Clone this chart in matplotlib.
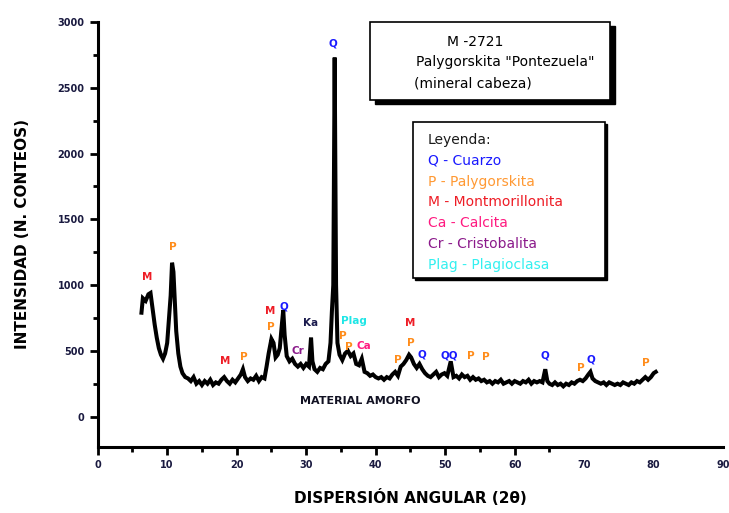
import matplotlib
matplotlib.use("Agg")
import matplotlib.pyplot as plt
from matplotlib.patches import Rectangle

# difractograma (2 theta, cuentas)
two_theta = [
    6.3, 6.5, 6.9, 7.3, 7.6, 7.9, 8.2, 8.5, 8.8, 9.1, 9.4, 9.7, 10.0, 10.3, 10.5, 10.7,
    10.9, 11.1, 11.3, 11.6, 11.9, 12.2, 12.6, 13.0, 13.4, 13.8, 14.2, 14.6, 15.0, 15.4,
    15.8, 16.2, 16.6, 17.0, 17.4, 17.8, 18.2, 18.6, 19.0, 19.4, 19.8, 20.2, 20.6, 20.9,
    21.2, 21.6, 22.0, 22.4, 22.8, 23.2, 23.6, 24.0, 24.3, 24.6, 25.0, 25.3, 25.6, 25.9,
    26.2, 26.5, 26.7, 26.9, 27.2, 27.6, 28.0, 28.4, 28.8, 29.2, 29.6, 30.0, 30.4, 30.7,
    30.9, 31.2, 31.6, 32.0, 32.4, 32.8, 33.2, 33.5, 33.7, 33.9, 34.1, 34.3, 34.5, 34.8,
    35.2, 35.6, 36.0, 36.4, 36.8, 37.2, 37.6, 38.0, 38.4, 38.8, 39.2, 39.6, 40.0, 40.4,
    40.8, 41.2, 41.6, 42.0, 42.4, 42.8, 43.2, 43.6, 44.0, 44.4, 44.8, 45.1, 45.5, 45.9,
    46.3, 46.7, 47.1, 47.5, 47.9, 48.3, 48.7, 49.1, 49.5, 49.9, 50.3, 50.8, 51.2, 51.6,
    52.0, 52.4, 52.8, 53.2, 53.6, 54.0, 54.4, 54.8, 55.2, 55.6, 56.0, 56.4, 56.8, 57.2,
    57.6, 58.0, 58.4, 58.8, 59.2, 59.6, 60.0, 60.4, 60.8, 61.2, 61.6, 62.0, 62.4, 62.8,
    63.2, 63.6, 64.0, 64.4, 64.7, 65.0, 65.4, 65.8, 66.2, 66.6, 67.0, 67.4, 67.8, 68.2,
    68.6, 69.0, 69.4, 69.8, 70.2, 70.6, 70.9, 71.2, 71.6, 72.0, 72.4, 72.8, 73.2, 73.6,
    74.0, 74.4, 74.8, 75.2, 75.6, 76.0, 76.4, 76.8, 77.2, 77.6, 78.0, 78.4, 78.8, 79.2,
    79.6, 80.0, 80.3,
]
counts = [
    790, 900, 880, 930, 940, 820, 700, 600, 520, 470, 440, 480, 560, 780, 920, 1170,
    1100, 880, 650, 480, 380, 330, 300, 290, 270, 300, 250, 270, 240, 270,
    250, 280, 240, 260, 250, 280, 300, 270, 250, 280, 260, 290, 320, 360,
    300, 270, 290, 280, 310, 270, 300, 290, 380, 480, 590, 560, 450, 470,
    520, 700, 810, 620, 460, 420, 440, 400, 380, 400, 370, 400, 380, 600,
    420, 360, 340, 370, 360, 400, 420, 560, 800, 1000, 2730, 1000, 560, 470,
    430, 480, 500, 460, 480, 400, 390, 440, 340, 330, 310, 320, 300, 290,
    300, 280, 300, 290, 320, 340, 310, 380, 400, 430, 470, 450, 400, 370,
    400, 360, 330, 310, 300, 320, 340, 300, 320, 330, 310, 420, 300, 310,
    290, 320, 300, 310, 280, 300, 280, 290, 270, 280, 260, 270, 250, 270,
    260, 280, 250, 260, 270, 250, 270, 260, 250, 270, 260, 280, 250, 270,
    260, 270, 260, 360, 270, 250, 240, 260, 240, 250, 230, 250, 240, 260,
    250, 270, 280, 270, 290, 320, 340, 290, 270, 260, 250, 260, 240, 260,
    250, 240, 250, 240, 260, 250, 240, 260, 250, 270, 260, 280, 300, 280,
    300, 330, 340,
]

# etiquetas de picos: (texto, 2theta, cuentas, color)
peak_text = ["M", "P", "M", "P", "M", "P", "Q", "Cr", "Ka", "Q", "Plag", "P", "P", "Ca",
             "P", "M", "P", "Q", "QQ", "P", "P", "Q", "P", "Q", "P"]
peak_x = [7.1, 10.8, 18.3, 21.0, 24.8, 24.9, 26.8, 28.8, 30.6, 33.9, 36.9, 35.2, 36.2, 38.3,
          43.2, 45.0, 45.0, 46.7, 50.6, 53.7, 55.9, 64.4, 69.5, 70.9, 78.8]
peak_y = [1060, 1290, 420, 450, 800, 680, 840, 500, 710, 2840, 730, 610, 530, 540,
          430, 710, 560, 470, 465, 460, 455, 465, 370, 435, 410]
peak_color = ["#ee1c25", "#ff8c1a", "#ee1c25", "#ff8c1a", "#ee1c25", "#ff8c1a", "#1a1aff",
              "#8b1a8b", "#1a1a4d", "#1a1aff", "#1ee6e6", "#ff8c1a", "#ff8c1a", "#ff1a80",
              "#ff8c1a", "#ee1c25", "#ff8c1a", "#1a1aff", "#1a1aff", "#ff8c1a", "#ff8c1a",
              "#1a1aff", "#ff8c1a", "#1a1aff", "#ff8c1a"]

legend_lines = ["Leyenda:", "Q - Cuarzo", "P - Palygorskita", "M - Montmorillonita",
                "Ca - Calcita", "Cr - Cristobalita", "Plag - Plagioclasa"]
legend_colors = ["#1a1a1a", "#1a1aff", "#ff9933", "#ee1c25", "#ff1a80", "#8b1a8b", "#33f0f0"]

title_lines = ["M -2721", "Palygorskita \"Pontezuela\"", "(mineral cabeza)"]

x_ticks = [0, 10, 20, 30, 40, 50, 60, 70, 80, 90]
y_ticks = [0, 500, 1000, 1500, 2000, 2500, 3000]


def main() -> None:
    fig = plt.figure(figsize=(7.29, 5.13), dpi=100)
    ax = fig.add_axes([0.134, 0.129, 0.858, 0.828])

    ax.plot(two_theta, counts, color="black", lw=2.9, solid_joinstyle="miter")
    ax.set_xlim(0, 90)
    ax.set_ylim(-230, 3000)

    for side in ["top", "right"]:
        ax.spines[side].set_visible(False)
    for side in ["left", "bottom"]:
        ax.spines[side].set_linewidth(2.2)

    ax.set_xticks(x_ticks)
    ax.set_xticks(list(range(5, 70, 10)), minor=True)
    ax.set_yticks(y_ticks)
    ax.set_yticks(list(range(250, 3000, 500)), minor=True)
    ax.tick_params(which="major", direction="out", length=6, width=2, labelsize=7, colors="black")
    ax.tick_params(which="minor", direction="out", length=3.5, width=2)
    for lab in ax.get_xticklabels() + ax.get_yticklabels():
        lab.set_fontweight("bold")
        lab.set_color("#1a1a40")
    # el original no dibuja marcas mas alla de 65
    for tick in ax.xaxis.get_major_ticks():
        if tick.get_loc() > 65:
            tick.tick1line.set_visible(False)

    ax.set_xlabel("DISPERSIÓN ANGULAR (2θ)", fontsize=11, fontweight="heavy", labelpad=14)
    ax.set_ylabel("INTENSIDAD (N. CONTEOS)", fontsize=11, fontweight="heavy", labelpad=20)

    for txt, x, y, c in zip(peak_text, peak_x, peak_y, peak_color):
        ax.text(x, y, txt, color=c, fontsize=7.5, fontweight="bold", ha="center", va="center")
    ax.text(37.8, 115, "MATERIAL AMORFO", fontsize=8, fontweight="bold", ha="center", va="center",
            color="#111122")

    # recuadro del titulo con sombra
    fig.patches.append(Rectangle((0.514, 0.797), 0.329, 0.152, transform=fig.transFigure,
                                 facecolor="black", edgecolor="black", zorder=1))
    fig.patches.append(Rectangle((0.5075, 0.805), 0.329, 0.152, transform=fig.transFigure,
                                 facecolor="white", edgecolor="black", lw=1.2, zorder=2))
    fig.text(0.652, 0.918, title_lines[0], fontsize=10, ha="center", va="center", zorder=3)
    fig.text(0.693, 0.879, title_lines[1], fontsize=10, ha="center", va="center", zorder=3)
    fig.text(0.648, 0.838, title_lines[2], fontsize=10, ha="center", va="center", zorder=3)

    # recuadro de leyenda
    fig.patches.append(Rectangle((0.5695, 0.454), 0.263, 0.304, transform=fig.transFigure,
                                 facecolor="black", edgecolor="black", zorder=1))
    fig.patches.append(Rectangle((0.5665, 0.458), 0.263, 0.304, transform=fig.transFigure,
                                 facecolor="white", edgecolor="black", lw=1.2, zorder=2))
    for i, (line, c) in enumerate(zip(legend_lines, legend_colors)):
        fig.text(0.587, 0.727 - i * 0.0405, line, color=c, fontsize=10, ha="left", va="center",
                 zorder=3)

    fig.savefig("out.png", dpi=100)
    plt.close(fig)


if __name__ == "__main__":
    main()
